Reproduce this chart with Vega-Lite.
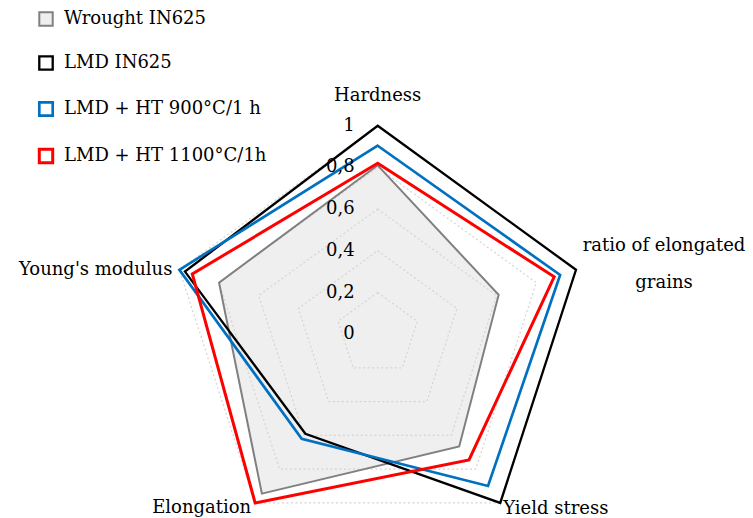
{
  "$schema": "https://vega.github.io/schema/vega-lite/v6.json",
  "width": 753,
  "height": 518,
  "autosize": "none",
  "padding": 0,
  "background": "white",
  "config": {"view": {"stroke": null}, "font": "DejaVu Serif"},
  "datasets": {
    "scores": [
      {"series": "Wrought IN625", "axis": "Hardness", "idx": 0, "value": 0.81},
      {"series": "Wrought IN625", "axis": "ratio of elongated grains", "idx": 1, "value": 0.61},
      {"series": "Wrought IN625", "axis": "Yield stress", "idx": 2, "value": 0.665},
      {"series": "Wrought IN625", "axis": "Elongation", "idx": 3, "value": 0.945},
      {"series": "Wrought IN625", "axis": "Young's modulus", "idx": 4, "value": 0.80},
      {"series": "LMD IN625", "axis": "Hardness", "idx": 0, "value": 1.0},
      {"series": "LMD IN625", "axis": "ratio of elongated grains", "idx": 1, "value": 1.0},
      {"series": "LMD IN625", "axis": "Yield stress", "idx": 2, "value": 1.0},
      {"series": "LMD IN625", "axis": "Elongation", "idx": 3, "value": 0.59},
      {"series": "LMD IN625", "axis": "Young's modulus", "idx": 4, "value": 0.972},
      {"series": "LMD + HT 900°C/1 h", "axis": "Hardness", "idx": 0, "value": 0.904},
      {"series": "LMD + HT 900°C/1 h", "axis": "ratio of elongated grains", "idx": 1, "value": 0.92},
      {"series": "LMD + HT 900°C/1 h", "axis": "Yield stress", "idx": 2, "value": 0.90},
      {"series": "LMD + HT 900°C/1 h", "axis": "Elongation", "idx": 3, "value": 0.62},
      {"series": "LMD + HT 900°C/1 h", "axis": "Young's modulus", "idx": 4, "value": 1.0},
      {"series": "LMD + HT 1100°C/1h", "axis": "Hardness", "idx": 0, "value": 0.82},
      {"series": "LMD + HT 1100°C/1h", "axis": "ratio of elongated grains", "idx": 1, "value": 0.89},
      {"series": "LMD + HT 1100°C/1h", "axis": "Yield stress", "idx": 2, "value": 0.745},
      {"series": "LMD + HT 1100°C/1h", "axis": "Elongation", "idx": 3, "value": 1.0},
      {"series": "LMD + HT 1100°C/1h", "axis": "Young's modulus", "idx": 4, "value": 0.935}
    ],
    "grid": [
      {"level": 0.2, "idx": 0}, {"level": 0.2, "idx": 1}, {"level": 0.2, "idx": 2}, {"level": 0.2, "idx": 3}, {"level": 0.2, "idx": 4},
      {"level": 0.4, "idx": 0}, {"level": 0.4, "idx": 1}, {"level": 0.4, "idx": 2}, {"level": 0.4, "idx": 3}, {"level": 0.4, "idx": 4},
      {"level": 0.6, "idx": 0}, {"level": 0.6, "idx": 1}, {"level": 0.6, "idx": 2}, {"level": 0.6, "idx": 3}, {"level": 0.6, "idx": 4},
      {"level": 0.8, "idx": 0}, {"level": 0.8, "idx": 1}, {"level": 0.8, "idx": 2}, {"level": 0.8, "idx": 3}, {"level": 0.8, "idx": 4},
      {"level": 1.0, "idx": 0}, {"level": 1.0, "idx": 1}, {"level": 1.0, "idx": 2}, {"level": 1.0, "idx": 3}, {"level": 1.0, "idx": 4}
    ],
    "ticks": [
      {"level": 0, "label": "0"},
      {"level": 0.2, "label": "0,2"},
      {"level": 0.4, "label": "0,4"},
      {"level": 0.6, "label": "0,6"},
      {"level": 0.8, "label": "0,8"},
      {"level": 1.0, "label": "1"}
    ],
    "axes": [
      {"axis": "Hardness", "idx": 0, "text": "Hardness"},
      {"axis": "ratio", "idx": 1, "text": "ratio of elongated\ngrains"},
      {"axis": "Yield stress", "idx": 2, "text": "Yield stress"},
      {"axis": "Elongation", "idx": 3, "text": "Elongation"},
      {"axis": "Young's modulus", "idx": 4, "text": "Young's modulus"}
    ]
  },
  "encoding": {
    "x": {"field": "x", "type": "quantitative", "scale": {"domain": [-1.8115, 1.8], "nice": false, "zero": false}, "axis": null},
    "y": {"field": "y", "type": "quantitative", "scale": {"domain": [-0.8815, 1.6029], "nice": false, "zero": false}, "axis": null}
  },
  "layer": [
    {
      "data": {"name": "scores"},
      "transform": [
        {"filter": "datum.series === 'Wrought IN625'"},
        {"calculate": "PI/2 - datum.idx*2*PI/5", "as": "ang"},
        {"calculate": "datum.value*cos(datum.ang)", "as": "x"},
        {"calculate": "datum.value*sin(datum.ang)", "as": "y"}
      ],
      "mark": {"type": "line", "interpolate": "linear-closed", "strokeWidth": 0},
      "encoding": {
        "order": {"field": "idx", "type": "quantitative"},
        "fill": {
          "field": "series", "type": "nominal",
          "scale": {
            "domain": ["Wrought IN625", "LMD IN625", "LMD + HT 900°C/1 h", "LMD + HT 1100°C/1h"],
            "range": ["#efefef", "#ffffff", "#ffffff", "#ffffff"]
          },
          "legend": {
            "title": null, "orient": "none", "legendX": 37, "legendY": 10,
            "symbolType": "square", "symbolSize": 180, "symbolStrokeWidth": 3,
            "labelFont": "DejaVu Serif", "labelFontSize": 18, "labelColor": "#000000",
            "labelOffset": 9, "rowPadding": 21, "padding": 0, "labelLimit": 400
          }
        }
      }
    },
    {
      "data": {"name": "grid"},
      "transform": [
        {"calculate": "PI/2 - datum.idx*2*PI/5", "as": "ang"},
        {"calculate": "datum.level*cos(datum.ang)", "as": "x"},
        {"calculate": "datum.level*sin(datum.ang)", "as": "y"}
      ],
      "mark": {"type": "line", "interpolate": "linear-closed", "color": "#d4d4d4", "strokeWidth": 1.2, "strokeDash": [2, 2.5]},
      "encoding": {
        "detail": {"field": "level", "type": "nominal"},
        "order": {"field": "idx", "type": "quantitative"}
      }
    },
    {
      "data": {"name": "scores"},
      "transform": [
        {"calculate": "PI/2 - datum.idx*2*PI/5", "as": "ang"},
        {"calculate": "datum.value*cos(datum.ang)", "as": "x"},
        {"calculate": "datum.value*sin(datum.ang)", "as": "y"}
      ],
      "mark": {"type": "line", "interpolate": "linear-closed", "strokeJoin": "miter"},
      "encoding": {
        "order": {"field": "idx", "type": "quantitative"},
        "stroke": {
          "field": "series", "type": "nominal",
          "scale": {
            "domain": ["Wrought IN625", "LMD IN625", "LMD + HT 900°C/1 h", "LMD + HT 1100°C/1h"],
            "range": ["#808080", "#000000", "#0070C0", "#FF0000"]
          },
          "legend": {
            "title": null, "orient": "none", "legendX": 37, "legendY": 10,
            "symbolType": "square", "symbolSize": 180, "symbolStrokeWidth": 3,
            "labelFont": "DejaVu Serif", "labelFontSize": 18, "labelColor": "#000000",
            "labelOffset": 9, "rowPadding": 21, "padding": 0, "labelLimit": 400
          }
        },
        "strokeWidth": {
          "field": "series", "type": "nominal",
          "scale": {
            "domain": ["Wrought IN625", "LMD IN625", "LMD + HT 900°C/1 h", "LMD + HT 1100°C/1h"],
            "range": [2, 3, 3, 3]
          },
          "legend": null
        }
      }
    },
    {
      "data": {"name": "ticks"},
      "transform": [
        {"calculate": "0", "as": "x"},
        {"calculate": "datum.level", "as": "y"}
      ],
      "mark": {"type": "text", "align": "right", "baseline": "middle", "dx": -23, "fontSize": 18, "font": "DejaVu Serif", "color": "#000000"},
      "encoding": {"text": {"field": "label"}}
    },
    {
      "data": {"name": "axes"},
      "transform": [
        {"filter": "datum.idx === 0"},
        {"calculate": "PI/2 - datum.idx*2*PI/5", "as": "ang"},
        {"calculate": "cos(datum.ang)", "as": "x"},
        {"calculate": "sin(datum.ang)", "as": "y"}
      ],
      "mark": {"type": "text", "align": "center", "baseline": "middle", "dy": -30, "fontSize": 18, "font": "DejaVu Serif", "color": "#000000"},
      "encoding": {"text": {"field": "text"}}
    },
    {
      "data": {"name": "axes"},
      "transform": [
        {"filter": "datum.idx === 1"},
        {"calculate": "PI/2 - datum.idx*2*PI/5", "as": "ang"},
        {"calculate": "cos(datum.ang)", "as": "x"},
        {"calculate": "sin(datum.ang)", "as": "y"}
      ],
      "mark": {"type": "text", "align": "center", "baseline": "middle", "dx": 88, "dy": -24, "lineBreak": "\n", "lineHeight": 37, "fontSize": 18, "font": "DejaVu Serif", "color": "#000000"},
      "encoding": {"text": {"field": "text"}}
    },
    {
      "data": {"name": "axes"},
      "transform": [
        {"filter": "datum.idx === 2"},
        {"calculate": "PI/2 - datum.idx*2*PI/5", "as": "ang"},
        {"calculate": "cos(datum.ang)", "as": "x"},
        {"calculate": "sin(datum.ang)", "as": "y"}
      ],
      "mark": {"type": "text", "align": "left", "baseline": "middle", "dx": 3, "dy": 6, "fontSize": 18, "font": "DejaVu Serif", "color": "#000000"},
      "encoding": {"text": {"field": "text"}}
    },
    {
      "data": {"name": "axes"},
      "transform": [
        {"filter": "datum.idx === 3"},
        {"calculate": "PI/2 - datum.idx*2*PI/5", "as": "ang"},
        {"calculate": "cos(datum.ang)", "as": "x"},
        {"calculate": "sin(datum.ang)", "as": "y"}
      ],
      "mark": {"type": "text", "align": "right", "baseline": "middle", "dx": -4, "dy": 5, "fontSize": 18, "font": "DejaVu Serif", "color": "#000000"},
      "encoding": {"text": {"field": "text"}}
    },
    {
      "data": {"name": "axes"},
      "transform": [
        {"filter": "datum.idx === 4"},
        {"calculate": "PI/2 - datum.idx*2*PI/5", "as": "ang"},
        {"calculate": "cos(datum.ang)", "as": "x"},
        {"calculate": "sin(datum.ang)", "as": "y"}
      ],
      "mark": {"type": "text", "align": "right", "baseline": "middle", "dx": -7, "dy": 0, "fontSize": 18, "font": "DejaVu Serif", "color": "#000000"},
      "encoding": {"text": {"field": "text"}}
    }
  ]
}
